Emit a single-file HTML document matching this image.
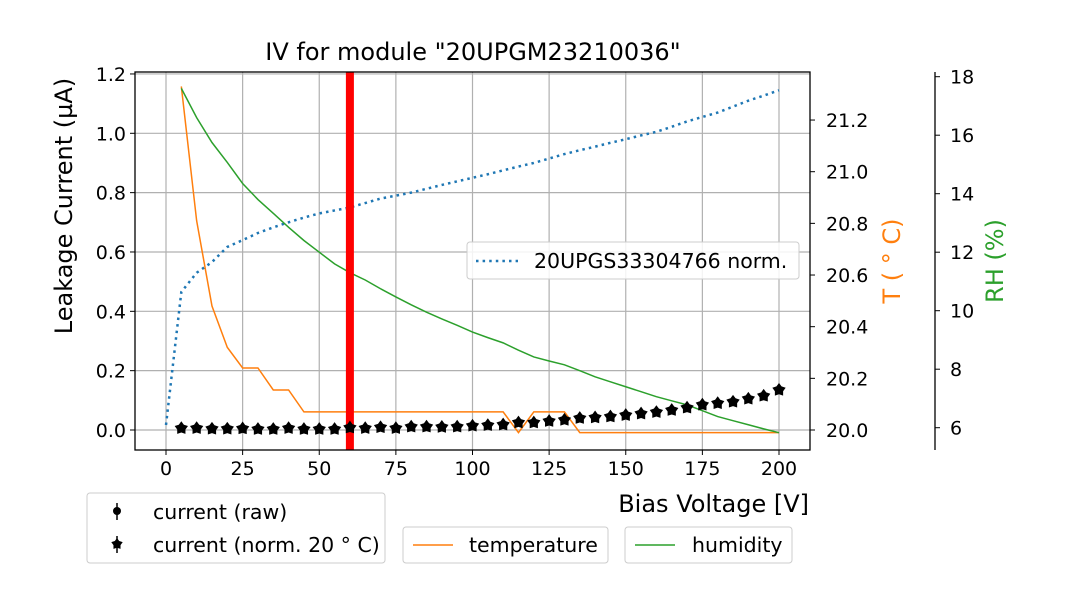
<!DOCTYPE html>
<html><head><meta charset="utf-8"><style>
html,body{margin:0;padding:0;background:#fff;}
svg{display:block;font-family:"DejaVu Sans","Liberation Sans",sans-serif;}
</style></head><body>
<svg id="c" width="1080" height="600" viewBox="0 0 1080 600" xmlns="http://www.w3.org/2000/svg"></svg>
<script>
const voltages = [5,10,15,20,25,30,35,40,45,50,55,60,65,70,75,80,85,90,95,100,105,110,115,120,125,130,135,140,145,150,155,160,165,170,175,180,185,190,195,200];
const currentNorm = [0.006,0.006,0.004,0.004,0.005,0.003,0.003,0.006,0.003,0.003,0.003,0.008,0.006,0.009,0.006,0.011,0.011,0.010,0.011,0.014,0.016,0.018,0.025,0.025,0.030,0.034,0.040,0.042,0.045,0.050,0.055,0.060,0.067,0.075,0.085,0.090,0.095,0.105,0.115,0.135];
const temperature = [21.33,20.81,20.48,20.32,20.24,20.24,20.155,20.155,20.07,20.07,20.07,20.07,20.07,20.07,20.07,20.07,20.07,20.07,20.07,20.07,20.07,20.07,19.99,20.07,20.07,20.07,19.99,19.99,19.99,19.99,19.99,19.99,19.99,19.99,19.99,19.99,19.99,19.99,19.99,19.99];
const humidity = [17.6,16.6,15.75,15.07,14.35,13.8,13.33,12.85,12.4,12.0,11.6,11.3,11.05,10.75,10.47,10.2,9.95,9.72,9.5,9.27,9.08,8.9,8.65,8.42,8.28,8.15,7.95,7.74,7.57,7.4,7.23,7.06,6.92,6.78,6.58,6.38,6.24,6.1,5.96,5.83];
const refVoltages = [0,5,10,15,20,25,30,35,40,45,50,55,60,65,70,75,80,85,90,95,100,105,110,115,120,125,130,135,140,145,150,155,160,165,170,175,180,185,190,195,200];
const refCurrent = [0.017,0.465,0.53,0.566,0.617,0.64,0.664,0.683,0.70,0.716,0.73,0.74,0.75,0.765,0.78,0.79,0.80,0.813,0.826,0.838,0.85,0.862,0.875,0.888,0.90,0.915,0.93,0.943,0.955,0.968,0.98,0.993,1.005,1.022,1.04,1.055,1.07,1.09,1.11,1.127,1.145];
const xTicks = [0,25,50,75,100,125,150,175,200];
const yTicks = [0.0,0.2,0.4,0.6,0.8,1.0,1.2];
const tTicks = [20.0,20.2,20.4,20.6,20.8,21.0,21.2];
const rhTicks = [6,8,10,12,14,16,18];
const markerV = 60;

const NS="http://www.w3.org/2000/svg";
const svg=document.getElementById('c');
function el(tag,attrs,parent){const e=document.createElementNS(NS,tag);for(const k in attrs)e.setAttribute(k,attrs[k]);(parent||svg).appendChild(e);return e;}
const L=135,R=810,T=72,B=450;
const X=v=>166+(v-0)*(779-166)/200;
const Y=v=>430-v*296.7;
const YT=v=>430-(v-20)*258.3;
const YH=v=>427.7-(v-6)*29.25;

const grid=el('g',{});


xTicks.forEach(t=>el('line',{x1:X(t),x2:X(t),y1:T,y2:B,stroke:'#b0b0b0','stroke-width':1.2},grid));
yTicks.forEach(t=>el('line',{x1:L,x2:R,y1:Y(t),y2:Y(t),stroke:'#b0b0b0','stroke-width':1.2},grid));

const rp=el('polyline',{points:refVoltages.map((v,i)=>X(v)+','+Y(refCurrent[i])).join(' '),fill:'none',stroke:'#1f77b4','stroke-width':2.5,'stroke-dasharray':'2.5 4.1'});


const tp=el('polyline',{points:voltages.map((v,i)=>X(v)+','+YT(temperature[i])).join(' '),fill:'none',stroke:'#ff7f0e','stroke-width':1.5});


const hp=el('polyline',{points:voltages.map((v,i)=>X(v)+','+YH(humidity[i])).join(' '),fill:'none',stroke:'#2ca02c','stroke-width':1.5});


const rl=el('line',{x1:X(markerV),x2:X(markerV),y1:T,y2:B,stroke:'#ff0000','stroke-width':8});


function star(cx,cy,r,parent){let p=[];for(let k=0;k<5;k++){let a=-Math.PI/2+k*2*Math.PI/5;p.push([cx+r*Math.cos(a),cy+r*Math.sin(a)]);let b=a+Math.PI/5;p.push([cx+r*0.62*Math.cos(b),cy+r*0.62*Math.sin(b)]);}return el('polygon',{points:p.map(q=>q.join(',')).join(' '),fill:'#000'},parent);}
const sg=el('g',{});


voltages.forEach((v,i)=>{const s=star(X(v),Y(currentNorm[i]),7,sg);

});

el('rect',{x:L,y:T,width:R-L,height:B-T,fill:'none',stroke:'#000','stroke-width':1.3});
el('line',{x1:935,x2:935,y1:T,y2:B,stroke:'#000','stroke-width':1.3});

const FS=19, LS=25, GS=20.5;
const tx=(x,y,s,attrs)=>{const t=el('text',Object.assign({x:x,y:y,'font-size':FS,fill:'#000'},attrs||{}));t.textContent=s;return t;};
xTicks.forEach(t=>{el('line',{x1:X(t),x2:X(t),y1:B,y2:B+5,stroke:'#000'});const e=tx(X(t),B+25,String(t),{'text-anchor':'middle'});});
yTicks.forEach(t=>{el('line',{x1:L-5,x2:L,y1:Y(t),y2:Y(t),stroke:'#000'});const e=tx(L-9,Y(t)+7,t.toFixed(1),{'text-anchor':'end'});});
tTicks.forEach(t=>{el('line',{x1:R,x2:R+5,y1:YT(t),y2:YT(t),stroke:'#000'});const e=tx(R+16,YT(t)+7,t.toFixed(1));});
rhTicks.forEach(t=>{el('line',{x1:935,x2:940,y1:YH(t),y2:YH(t),stroke:'#000'});const e=tx(950,YH(t)+7,String(t));});

const title=tx(473,60,'IV for module "20UPGM23210036"',{'text-anchor':'middle','font-size':LS-1});

const xl=tx(809,512,'Bias Voltage [V]',{'text-anchor':'end','font-size':LS-1});

const yl=tx(0,0,'Leakage Current (µA)',{'text-anchor':'middle','font-size':LS-1,transform:'translate(72,206) rotate(-90)'});

const tl=tx(0,0,'T ( ° C)',{'text-anchor':'middle','font-size':LS-1,fill:'#ff7f0e',transform:'translate(900,261) rotate(-90)'});

const hl=tx(0,0,'RH (%)',{'text-anchor':'middle','font-size':LS-1,fill:'#2ca02c',transform:'translate(1003,261) rotate(-90)'});


function box(x,y,w,h,name){const g=el('g',{});el('rect',{x:x,y:y,width:w,height:h,rx:3,fill:'#fff','fill-opacity':0.85,stroke:'#ccc'},g);return g;}
const g1=box(467,242,332,37,'reference-legend');
el('line',{x1:476,x2:518,y1:261,y2:261,stroke:'#1f77b4','stroke-width':2.5,'stroke-dasharray':'2.5 4.1'},g1);
tx(534,268,'20UPGS33304766 norm.',{'font-size':GS});
const g2=box(87,493,298,70,'current-legend');
el('line',{x1:117,x2:117,y1:503,y2:520,stroke:'#000','stroke-width':1.5},g2);
el('circle',{cx:117,cy:511,r:4,fill:'#000'},g2);
tx(153,519,'current (raw)',{'font-size':GS});
el('line',{x1:117,x2:117,y1:536,y2:553,stroke:'#000','stroke-width':1.5},g2);
star(117,544,6,g2);
tx(153,552,'current (norm. 20 ° C)',{'font-size':GS});
const g3=box(403,527,205,36,'temperature-legend');
el('line',{x1:413,x2:453,y1:545,y2:545,stroke:'#ff7f0e','stroke-width':1.5},g3);
tx(469,552,'temperature',{'font-size':GS});
const g4=box(625,527,167,36,'humidity-legend');
el('line',{x1:635,x2:675,y1:545,y2:545,stroke:'#2ca02c','stroke-width':1.5},g4);
tx(692,552,'humidity',{'font-size':GS});
</script>
</body></html>
